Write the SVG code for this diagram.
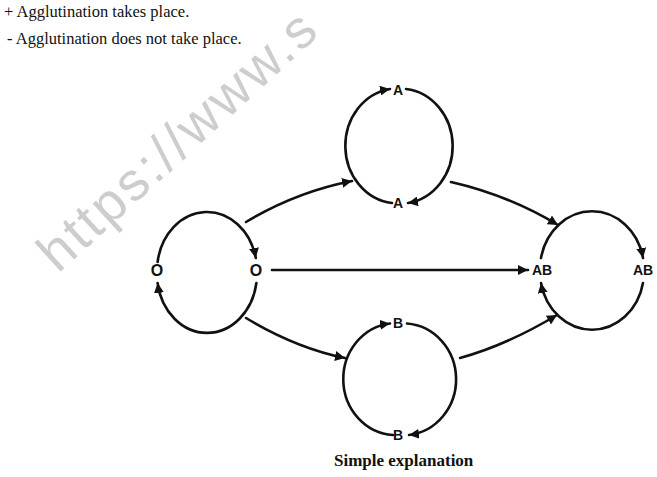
<svg xmlns="http://www.w3.org/2000/svg" width="657" height="477" viewBox="0 0 657 477">
<style>
.note{font-family:"Liberation Serif","Times New Roman",serif;font-size:16.5px;fill:#111}
.cap{font-family:"Liberation Serif","Times New Roman",serif;font-size:17px;font-weight:bold;fill:#111}
.lbl{font-family:"Liberation Sans",Arial,sans-serif;font-weight:bold;font-size:14px;fill:#111;text-anchor:middle}
.big{font-size:16px}
.wm{font-family:"Liberation Sans",Arial,sans-serif;font-size:54px;fill:#cdcdcd}
.ln{fill:none;stroke:#111;stroke-width:2.6;stroke-linecap:round}
</style>
<defs>
<marker id="ah" markerUnits="userSpaceOnUse" markerWidth="12" markerHeight="10" refX="10" refY="5" orient="auto">
<path d="M0,0 L10,5 L0,10 Z" fill="#111"/>
</marker>
</defs>
<rect width="657" height="477" fill="#fff"/>
<text class="wm" transform="translate(58,274) rotate(-42.4)" textLength="355" lengthAdjust="spacing">https://www.s</text>
<text class="note" x="4" y="17">+ Agglutination takes place.</text>
<text class="note" x="7" y="44">- Agglutination does not take place.</text>
<g id="connectors">
<path class="ln" marker-end="url(#ah)" d="M246,222 Q296,192 352,181"/>
<path class="ln" marker-end="url(#ah)" d="M451,182 Q508,195 558,225"/>
<path class="ln" marker-end="url(#ah)" d="M272,270 L528,270"/>
<path class="ln" marker-end="url(#ah)" d="M246,318 Q296,348 345,358"/>
<path class="ln" marker-end="url(#ah)" d="M460,358 Q507,345 557,315"/>
</g>
<g id="node-O">
<path class="ln" marker-end="url(#ah)" d="M157.6,262 A50,59 0 0 1 255.8,258"/>
<path class="ln" marker-end="url(#ah)" d="M256.4,283 A50,59 0 0 1 157.6,283"/>
<text class="lbl big" x="157" y="276">O</text>
<text class="lbl big" x="256" y="276">O</text>
</g>
<g id="node-A">
<path class="ln" marker-end="url(#ah)" d="M392,203 A52.5,57.5 0 0 1 390,89"/>
<path class="ln" marker-end="url(#ah)" d="M406,89 A52.5,57.5 0 0 1 408,203"/>
<text class="lbl" x="398" y="95">A</text>
<text class="lbl" x="398" y="208">A</text>
</g>
<g id="node-B">
<path class="ln" marker-end="url(#ah)" d="M393,435 A53,56 0 0 1 390,323.5"/>
<path class="ln" marker-end="url(#ah)" d="M407,323.5 A53,56 0 0 1 409,435"/>
<text class="lbl" x="398" y="328">B</text>
<text class="lbl" x="398" y="440">B</text>
</g>
<g id="node-AB">
<path class="ln" marker-end="url(#ah)" d="M541,258 A52,58 0 0 1 643,258"/>
<path class="ln" marker-end="url(#ah)" d="M643,283 A52,58 0 0 1 541,283"/>
<text class="lbl" x="542" y="275">AB</text>
<text class="lbl" x="643" y="275">AB</text>
</g>
<text class="cap" x="334" y="466">Simple explanation</text>
</svg>
